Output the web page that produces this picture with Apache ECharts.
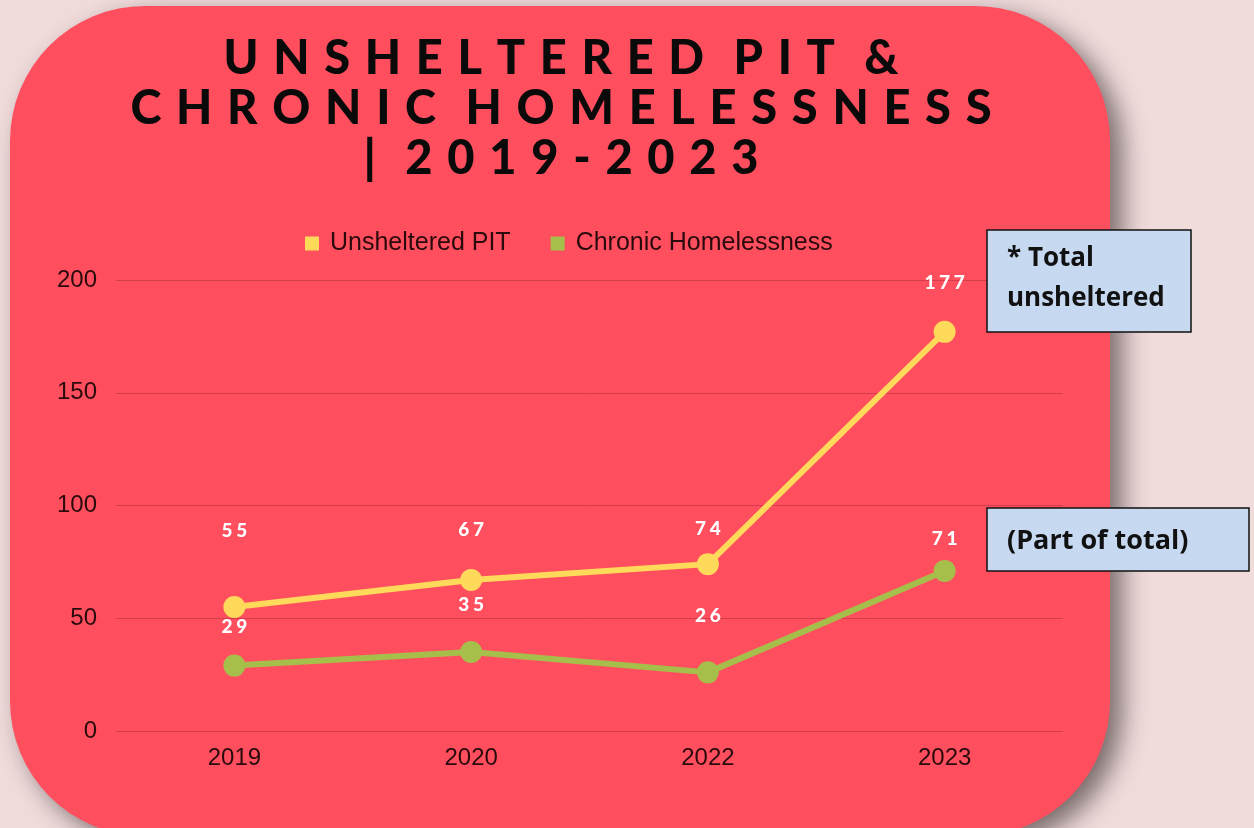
<!DOCTYPE html>
<html lang="en">
  <head>
    <meta charset="UTF-8" />
    <script src="https://cdn.jsdelivr.net/npm/echarts@6/dist/echarts.min.js"></script>
    <style>
      html,
      body {
        margin: 0;
        overflow: hidden;
        background: #f1dcdc;
      }
      #viewport {
        position: absolute;
        left: 0px;
        top: 0px;
        width: 1254px;
        height: 828px;
      }
    </style>
  </head>
  <body>
    <div id="viewport"></div>
    <script>
      var years = ['2019', '2020', '2022', '2023'];
      var unsheltered = [55, 67, 74, 177];
      var chronic = [29, 35, 26, 71];
      var yTicks = [0, 50, 100, 150, 200];

      // how far each value label sits above its point
      var unshelteredLabelGap = [56, 30, 15, 28];
      var chronicLabelGap = [18, 27, 36, 12];

      function spaced(str, sep) {
        return str.split('').join(sep);
      }

      function withLabels(values, gaps) {
        return values.map(function (v, i) {
          return { value: v, label: { distance: gaps[i] } };
        });
      }

      var titleText = [
        'UNSHELTERED PIT &',
        'CHRONIC HOMELESSNESS',
        '| 2019-2023'
      ]
        .map(function (line) {
          return line
            .split(' ')
            .map(function (w) {
              return spaced(w, '\u2009\u2009\u200A');
            })
            .join('\u2009\u2009\u2009\u2009\u2009');
        })
        .join('\n');

      var myChart = echarts.init(document.getElementById('viewport'));

      var labelStyle = {
        show: true,
        position: 'top',
        color: '#ffffff',
        fontFamily: 'Lato',
        fontWeight: 900,
        fontSize: 19,
        formatter: function (p) {
          return spaced(String(p.value), '\u2009\u200A');
        }
      };

      var axisText = {
        fontFamily: 'Liberation Sans',
        fontSize: 24,
        color: '#2a0a0c'
      };

      var noteText = {
        fontFamily: 'Open Sans',
        fontWeight: 'bold',
        fontSize: 26,
        fill: '#111'
      };

      var option = {
        animation: false,
        backgroundColor: '#f1dcdc',
        title: {
          text: titleText,
          left: 556,
          top: 29,
          textAlign: 'center',
          textStyle: {
            fontFamily: 'Lato',
            fontWeight: 900,
            fontSize: 47,
            lineHeight: 50,
            color: '#0a0a0a'
          }
        },
        graphic: [
          {
            type: 'rect',
            z: -10,
            silent: true,
            shape: { x: 10, y: 6, width: 1100, height: 830, r: 135 },
            style: {
              fill: '#ff4f5e',
              shadowBlur: 26,
              shadowOffsetX: 12,
              shadowOffsetY: 10,
              shadowColor: 'rgba(40,30,30,0.6)'
            }
          },
          {
            type: 'rect',
            z: 100,
            shape: { x: 987, y: 230, width: 204, height: 102 },
            style: { fill: '#c7d9f0', stroke: '#111', lineWidth: 1.5 }
          },
          {
            type: 'text',
            z: 101,
            x: 1007,
            y: 239,
            style: Object.assign(
              { text: '* Total\nunsheltered', lineHeight: 40 },
              noteText
            )
          },
          {
            type: 'rect',
            z: 100,
            shape: { x: 987, y: 508, width: 262, height: 63 },
            style: { fill: '#c7d9f0', stroke: '#111', lineWidth: 1.5 }
          },
          {
            type: 'text',
            z: 101,
            x: 1007,
            y: 541,
            style: Object.assign(
              { text: '(Part of total)', verticalAlign: 'middle' },
              noteText,
              { fontSize: 27 }
            )
          }
        ],
        legend: {
          top: 226,
          left: 300,
          itemGap: 40,
          itemWidth: 14,
          itemHeight: 14,
          icon: 'rect',
          textStyle: Object.assign({ padding: [0, 0, 0, 6] }, axisText, {
            fontSize: 25
          }),
          data: ['Unsheltered PIT', 'Chronic Homelessness']
        },
        grid: {
          left: 116,
          right: 191,
          top: 280,
          bottom: 97
        },
        xAxis: {
          type: 'category',
          data: years,
          boundaryGap: true,
          axisLine: { show: false },
          axisTick: { show: false },
          axisLabel: Object.assign({ margin: 15 }, axisText)
        },
        yAxis: {
          type: 'value',
          min: yTicks[0],
          max: yTicks[yTicks.length - 1],
          interval: 50,
          axisLine: { show: false },
          axisTick: { show: false },
          splitLine: { lineStyle: { color: '#d23e4b', width: 1 } },
          axisLabel: Object.assign({ margin: 19 }, axisText)
        },
        series: [
          {
            name: 'Unsheltered PIT',
            type: 'line',
            data: withLabels(unsheltered, unshelteredLabelGap),
            color: '#ffd95a',
            symbol: 'circle',
            symbolSize: 22,
            lineStyle: { width: 6, color: '#ffd95a' },
            itemStyle: { color: '#ffd95a' },
            label: labelStyle
          },
          {
            name: 'Chronic Homelessness',
            type: 'line',
            data: withLabels(chronic, chronicLabelGap),
            color: '#a6bf4b',
            symbol: 'circle',
            symbolSize: 22,
            lineStyle: { width: 6, color: '#a6bf4b' },
            itemStyle: { color: '#a6bf4b' },
            label: labelStyle
          }
        ]
      };

      myChart.setOption(option);
    </script>
  </body>
</html>
